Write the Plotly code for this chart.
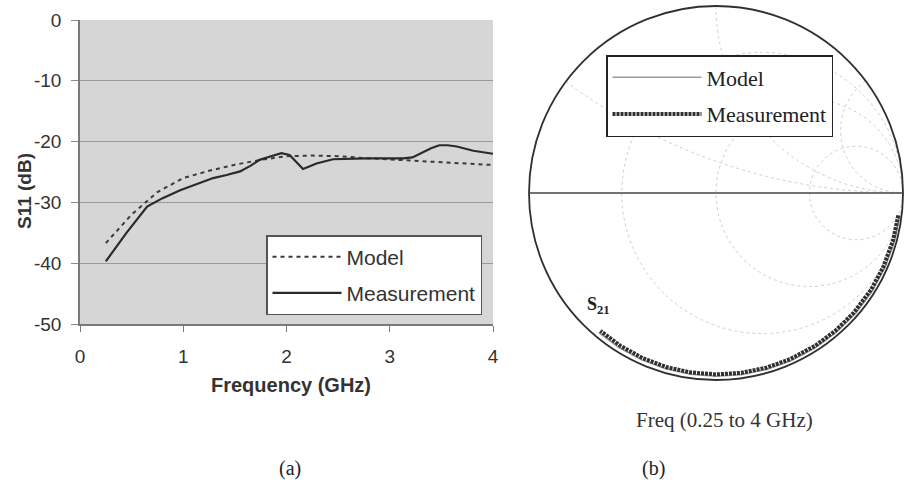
import numpy as np
import plotly.graph_objects as go

W, H = 906, 482

# ---------------- (a) S11 vs frequency ----------------
freq_model = [0.25, 0.5, 0.75, 1.0, 1.25, 1.5, 1.75, 2.0, 2.25, 2.5, 2.75, 3.0, 3.25, 3.5, 3.75, 4.0]
s11_model = [-36.7, -32.0, -28.3, -26.0, -24.8, -23.8, -23.0, -22.4, -22.3, -22.4, -22.7, -22.95, -23.2, -23.45, -23.65, -23.85]

freq_meas = [0.25, 0.45, 0.65, 0.8, 0.97, 1.15, 1.29, 1.42, 1.55, 1.65, 1.74, 1.85, 1.95, 2.03, 2.1, 2.16, 2.22, 2.29, 2.45, 2.6, 2.78, 2.95, 3.13, 3.22, 3.3, 3.4, 3.48, 3.56, 3.65, 3.81, 4.0]
s11_meas = [-39.7, -35.0, -30.7, -29.3, -28.0, -26.9, -26.0, -25.5, -24.9, -24.0, -23.0, -22.4, -21.9, -22.2, -23.4, -24.5, -24.1, -23.6, -22.9, -22.8, -22.75, -22.75, -22.75, -22.6, -21.9, -21.1, -20.6, -20.6, -20.8, -21.5, -22.0]

x_ticks = [0, 1, 2, 3, 4]
x_tick_labels = ["0", "1", "2", "3", "4"]
y_ticks = [0, -10, -20, -30, -40, -50]
y_tick_labels = ["0", "-10", "-20", "-30", "-40", "-50"]

# ---------------- (b) Smith chart, S21 ----------------
freq_s21 = [0.25, 0.5, 0.75, 1.0, 1.25, 1.5, 1.75, 2.0, 2.25, 2.5, 2.75, 3.0, 3.25, 3.5, 3.75, 4.0]
s21_meas_mag = [0.982, 0.98, 0.978, 0.977, 0.976, 0.975, 0.974, 0.973, 0.972, 0.971, 0.97, 0.969, 0.968, 0.966, 0.964, 0.962]
s21_meas_deg = [-7, -15, -24, -32, -41, -49, -57, -66, -74, -82, -90, -98, -106, -114, -122, -130]
s21_model_mag = [0.99, 0.989, 0.988, 0.987, 0.986, 0.985, 0.984, 0.983, 0.982, 0.981, 0.98, 0.979, 0.978, 0.977, 0.976, 0.975]
s21_model_deg = [-7, -15, -23.5, -32, -40.5, -49, -57.5, -66, -74, -82, -90, -98, -106, -114, -122, -130]

smith_grid = [0.33, 1, 3]


def gamma_to_z(mag, deg):
    g = np.array(mag) * np.exp(1j * np.deg2rad(np.array(deg)))
    return (1 + g) / (1 - g)


z_meas = gamma_to_z(s21_meas_mag, s21_meas_deg)
z_model = gamma_to_z(s21_model_mag, s21_model_deg)

SANS = "Liberation Sans, Arial, sans-serif"
SERIF = "Liberation Serif, Times New Roman, serif"
TXT = "#333333"

fig = go.Figure()

fig.add_trace(go.Scatter(
    x=freq_model, y=s11_model, mode="lines", name="Model",
    line=dict(color="#3a3a3a", width=2, dash="4px,4px"),
    legend="legend", legendgroup="a1"))
fig.add_trace(go.Scatter(
    x=freq_meas, y=s11_meas, mode="lines", name="Measurement",
    line=dict(color="#2a2a2a", width=2.2),
    legend="legend", legendgroup="a2"))

fig.add_trace(go.Scattersmith(
    real=z_model.real, imag=z_model.imag, mode="lines", name="Model",
    line=dict(color="#9a9a9a", width=1.5),
    legend="legend2", legendgroup="b1"))
fig.add_trace(go.Scattersmith(
    real=z_meas.real, imag=z_meas.imag, mode="lines", name="Measurement",
    line=dict(color="#303030", width=4, dash="3px,1px"),
    legend="legend2", legendgroup="b2"))


def label(text, x, y, size, family, color, angle=0):
    return dict(text=text, x=x / W, y=1 - y / H, xref="paper", yref="paper",
                xanchor="center", yanchor="middle", showarrow=False, textangle=angle,
                font=dict(family=family, size=size, color=color))


fig.update_layout(
    width=W, height=H,
    margin=dict(l=0, r=0, t=0, b=0, autoexpand=False),
    paper_bgcolor="white",
    plot_bgcolor="#d6d6d6",
    xaxis=dict(
        domain=[80 / W, 493 / W], range=[0, 4], tickvals=x_ticks, ticktext=x_tick_labels,
        showgrid=False, zeroline=False, showline=True, linecolor="#7a7a7a", linewidth=1.5,
        ticks="outside", ticklen=6, tickcolor="#7a7a7a", automargin=False,
        tickfont=dict(family=SANS, size=19, color=TXT), ticklabelstandoff=8,
    ),
    yaxis=dict(
        domain=[1 - 324 / H, 1 - 20 / H], range=[-50, 0], tickvals=y_ticks, ticktext=y_tick_labels,
        showgrid=True, gridcolor="#9a9a9a", gridwidth=1, zeroline=False,
        showline=True, linecolor="#7a7a7a", linewidth=1.5, automargin=False,
        ticks="outside", ticklen=7, tickcolor="#8a8a8a",
        tickfont=dict(family=SANS, size=19, color=TXT), ticklabelstandoff=6,
    ),
    smith=dict(
        domain=dict(x=[529 / W, 903 / W], y=[1 - 380 / H, 1 - 6 / H]),
        bgcolor="white",
        realaxis=dict(tickvals=smith_grid, showticklabels=False, ticks="",
                      gridcolor="#cfcfcf", gridwidth=1, griddash="dot",
                      showline=True, linecolor="#444444", linewidth=1.5),
        imaginaryaxis=dict(tickvals=smith_grid, showticklabels=False, ticks="",
                           gridcolor="#cfcfcf", gridwidth=1, griddash="dot",
                           showline=True, linecolor="#303030", linewidth=1.8),
    ),
    legend=dict(
        x=266 / W, y=1 - 235 / H, xanchor="left", yanchor="top",
        bgcolor="white", bordercolor="#555555", borderwidth=1.5,
        font=dict(family=SANS, size=21, color=TXT),
        itemwidth=69, tracegroupgap=6, traceorder="grouped",
    ),
    legend2=dict(
        x=606 / W, y=1 - 55 / H, xanchor="left", yanchor="top",
        bgcolor="white", bordercolor="#222222", borderwidth=1.5,
        font=dict(family=SERIF, size=22, color="#222222"),
        itemwidth=89, tracegroupgap=5, traceorder="grouped",
    ),
    annotations=[
        label("<b>Frequency (GHz)</b>", 291, 385, 20, SANS, TXT),
        label("<b>S11 (dB)</b>", 25, 191, 19, SANS, TXT, angle=-90),
        label("(a)", 290, 468, 20, SERIF, "#222222"),
        label("(b)", 653, 468, 20, SERIF, "#222222"),
        label("Freq (0.25 to 4 GHz)", 724, 420, 21, SERIF, "#333333"),
        label("<b>S<sub>21</sub></b>", 598, 305, 18, SERIF, "#222222"),
    ],
)

fig.write_html("out.html", post_script="document.body.style.margin='0';",
               config={"displayModeBar": False})
